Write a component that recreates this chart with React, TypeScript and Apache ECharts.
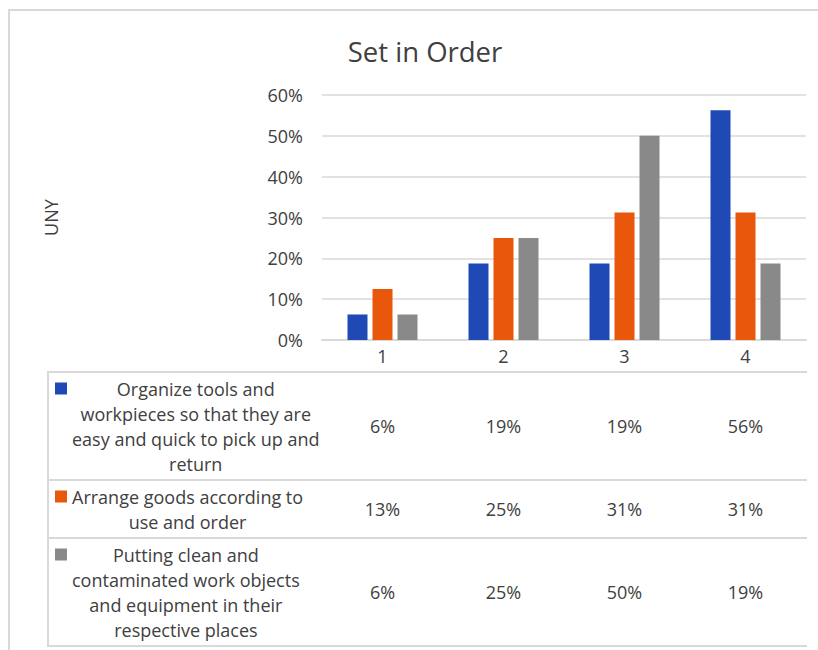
import React, { useEffect, useRef } from "react";
import * as echarts from "echarts";

const TITLE = "Set in Order";
const Y_NAME = "UNY";
const CATEGORIES = ["1", "2", "3", "4"];
const SERIES_NAMES = [
  "Organize tools and\nworkpieces so that they are\neasy and quick to pick up and\nreturn",
  "Arrange goods according to\nuse and order",
  "Putting clean and\ncontaminated work objects\nand equipment in their\nrespective places",
];
const ORGANIZE = [6.25, 18.75, 18.75, 56.25];
const ARRANGE = [12.5, 25, 31.25, 31.25];
const PUTTING = [6.25, 25, 50, 18.75];
const Y_MIN = 0;
const Y_MAX = 60;
const Y_INTERVAL = 10;
const COLORS = ["#1F4AB5", "#E9570A", "#898989"];

export default function App() {
  const ref = useRef<HTMLDivElement>(null);

  useEffect(() => {
    if (!ref.current) return;
    const chart = echarts.init(ref.current, null, { renderer: "svg", width: 818, height: 650 });
    const fontFamily = "Open Sans";
    const fontSize = 18;
    const textColor = "#404040";
    const lineColor = "#D9D9D9";
    const gridLeft = 322;
    const gridRight = 806;
    const gridTop = 95;
    const gridBottom = 340;
    const headerH = 32;
    const lineH = 25;
    const rowPad = 8;
    const tableLeft = 48;
    const seriesData = [ORGANIZE, ARRANGE, PUTTING];

    const rows: { top: number; h: number; lines: number }[] = [];
    let y = gridBottom + headerH;
    SERIES_NAMES.forEach((n) => {
      const lines = n.split("\n").length;
      const h = lines * lineH + rowPad;
      rows.push({ top: y, h, lines });
      y += h;
    });
    const tableBottom = y;

    chart.setOption({
      animation: false,
      title: {
        text: TITLE,
        left: 420,
        top: 32,
        textAlign: "center",
        textStyle: { fontFamily, fontSize: 27.5, fontWeight: "normal", color: textColor },
      },
      grid: { left: gridLeft, top: gridTop, width: gridRight - gridLeft, height: gridBottom - gridTop },
      xAxis: {
        type: "category",
        data: CATEGORIES,
        axisLine: { lineStyle: { color: lineColor, width: 2 } },
        axisTick: { length: tableBottom - gridBottom, lineStyle: { color: lineColor, width: 2 } },
        axisLabel: { margin: 7, fontFamily, fontSize, color: textColor },
      },
      yAxis: {
        type: "value",
        min: Y_MIN,
        max: Y_MAX,
        interval: Y_INTERVAL,
        name: Y_NAME,
        nameLocation: "middle",
        nameGap: 262,
        nameTextStyle: { fontFamily, fontSize, color: textColor },
        axisLine: { show: false },
        axisTick: { show: false },
        axisLabel: { margin: 19, fontFamily, fontSize, color: textColor, formatter: "{value}%" },
        splitLine: { lineStyle: { color: lineColor, width: 1.5 } },
      },
      series: seriesData.map((d, i) => ({
        type: "bar",
        name: SERIES_NAMES[i],
        data: d,
        barWidth: 20,
        barGap: "25%",
        itemStyle: { color: COLORS[i] },
      })),
    });

    const font = `${fontSize}px "${fontFamily}"`;
    const measure = (text: string) =>
      new echarts.graphic.Text({ style: { text, font, lineHeight: lineH } }).getBoundingRect().width;

    const graphics: any[] = [
      {
        type: "rect",
        silent: true,
        z: -10,
        shape: { x: 9, y: 10, width: 840, height: 720 },
        style: { fill: "none", stroke: lineColor, lineWidth: 2 },
      },
      {
        type: "line",
        silent: true,
        shape: { x1: tableLeft, y1: gridBottom + headerH, x2: tableLeft, y2: tableBottom },
        style: { stroke: lineColor, lineWidth: 2 },
      },
    ];
    [gridBottom + headerH, ...rows.map((r) => r.top + r.h)].forEach((ly) => {
      graphics.push({
        type: "line",
        silent: true,
        shape: { x1: tableLeft - 1, y1: ly, x2: gridRight + 1, y2: ly },
        style: { stroke: lineColor, lineWidth: 2 },
      });
    });
    rows.forEach((r, i) => {
      const textTop = r.top + rowPad / 2;
      const w = measure(SERIES_NAMES[i]);
      graphics.push({
        type: "rect",
        silent: true,
        shape: { x: 55, y: textTop + lineH / 2 - 6, width: 12, height: 12 },
        style: { fill: COLORS[i] },
      });
      graphics.push({
        type: "text",
        silent: true,
        x: 72 + w / 2,
        y: textTop,
        style: {
          text: SERIES_NAMES[i],
          fontFamily,
          fontSize,
          lineHeight: lineH,
          fill: textColor,
          align: "center",
          verticalAlign: "top",
        },
      });
      seriesData[i].forEach((v, j) => {
        const cx = chart.convertToPixel({ xAxisIndex: 0 }, CATEGORIES[j]) as number;
        graphics.push({
          type: "text",
          silent: true,
          x: cx,
          y: r.top + r.h / 2,
          style: {
            text: `${Math.round(v)}%`,
            fontFamily,
            fontSize,
            fill: textColor,
            align: "center",
            verticalAlign: "middle",
          },
        });
      });
    });
    chart.setOption({ graphic: graphics });

    return () => chart.dispose();
  }, []);

  return <div ref={ref} style={{ position: "absolute", left: 0, top: 0, width: 818, height: 650 }} />;
}
